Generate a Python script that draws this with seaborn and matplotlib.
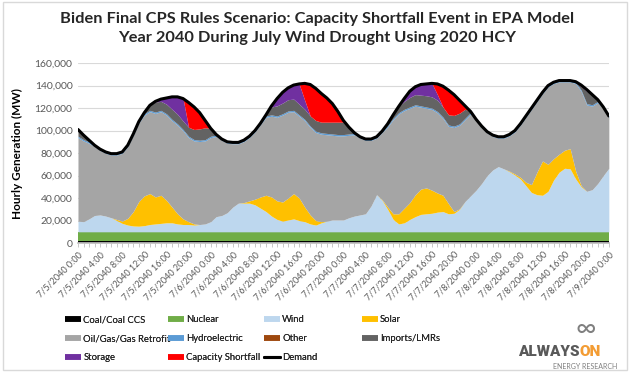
import numpy as np
import matplotlib.pyplot as plt
import seaborn as sns
from matplotlib.lines import Line2D
from matplotlib.patches import Rectangle
from matplotlib.ticker import FuncFormatter, MultipleLocator

# hourly values, thousand MW, 7/5/2040 0:00 .. 7/9/2040 0:00 (97 points)
hours = np.arange(97)

tick_labels = [
    "7/5/2040 0:00", "7/5/2040 4:00", "7/5/2040 8:00", "7/5/2040 12:00",
    "7/5/2040 16:00", "7/5/2040 20:00", "7/6/2040 0:00", "7/6/2040 4:00",
    "7/6/2040 8:00", "7/6/2040 12:00", "7/6/2040 16:00", "7/6/2040 20:00",
    "7/7/2040 0:00", "7/7/2040 4:00", "7/7/2040 8:00", "7/7/2040 12:00",
    "7/7/2040 16:00", "7/7/2040 20:00", "7/8/2040 0:00", "7/8/2040 4:00",
    "7/8/2040 8:00", "7/8/2040 12:00", "7/8/2040 16:00", "7/8/2040 20:00",
    "7/9/2040 0:00",
]

coal = [2.0] * 97
nuclear = [8.0] * 97
hydro = [1.2] * 97

wind = [9.5, 9, 11.5, 14.5, 15, 14, 12.5, 10, 7.5, 6, 5.2, 5, 5.5, 6.5, 7, 7.5,
        8, 8, 7, 6.5, 6.5, 6, 6.5, 7, 9, 13.5, 14.5, 17, 22, 25.5, 25.5, 25.5,
        24, 21, 18, 14, 11, 9.5, 10.5, 11.5, 10, 9, 7, 6, 8, 9.5, 10.5, 10.5,
        10.5, 12.5, 14, 15, 16, 23, 33, 28, 20, 11, 7, 8, 11, 13.5, 15.5, 16,
        16.5, 17.5, 18, 16, 16.5, 20, 27, 32, 37, 43, 50, 55, 58, 56, 53.5, 50.5,
        47, 41, 35, 33, 32.5, 36, 46, 53, 56.5, 56, 47, 40, 36, 37.5, 43, 50, 56.5]

solar = [0, 0, 0, 0, 0, 0, 0, 1, 2, 6, 12.8, 22, 26.5, 27.5, 24, 25,
         20, 14, 9, 5, 2.5, 1, 0, 0, 0, 0, 0, 0, 0, 0, 0.5, 2,
         5, 10, 14.5, 17, 16.5, 17, 19.5, 22.5, 20, 13, 8, 4, 1, 0, 0, 0,
         0, 0, 0, 0, 0, 0, 0, 0.5, 2, 5, 9, 13, 15, 19.5, 22.5, 23,
         20.5, 17, 14.5, 9, 1.5, 0.5, 0, 0, 0, 0, 0, 0, 0, 0, 0.5, 1,
         1.5, 3, 7, 20, 30.5, 24, 19, 16, 16, 18, 7, 1, 0, 0, 0, 0, 0]

gas = [74.3, 71.8, 67.3, 61.3, 57.3, 55.8, 55.8, 57.3, 60.3, 63.8, 67.8, 69.8,
       71.8, 72.8, 74.3, 74.3, 75.8, 76.8, 78.8, 78.3, 74.8, 73.8, 73.8, 73.8,
       74.8, 71.3, 66.8, 61.8, 56.3, 52.8, 54.3, 56.3, 59.8, 64.3, 69.3, 71.8,
       74.3, 77.3, 76.3, 72.8, 72.8, 76.8, 77.8, 78.3, 77.8, 76.8, 75.3, 74.8,
       74.8, 73.3, 72.3, 68.3, 65.3, 58.3, 50.3, 59.8, 71.3, 83.8, 88.8, 86.8,
       83.8, 78.8, 72.8, 70.8, 71.8, 71.3, 68.3, 68.8, 74.8, 74.3, 72.8, 72.8,
       61.8, 49.8, 37.8, 29.8, 25.3, 27.3, 31.3, 37.3, 46.3, 57.8, 66.8, 62.8,
       59.8, 68.8, 66.8, 64.3, 60.8, 59.3, 77.8, 83.8, 76.8, 74.3, 71.8, 59.8, 45.3]

other = [0] * 77 + [1.5] + [0] * 19

imports = [6, 4, 1.5, 0, 0, 0, 0, 0, 0, 0, 0, 0, 1, 4.5, 9, 8,
           8.5, 9, 8.5, 7.5, 8, 9, 10, 10.5, 7, 0.5, 0, 0, 0, 0, 0, 0,
           0, 0, 1, 7, 9, 9.5, 10, 10, 9.5, 9, 9, 9.5, 9.5, 10, 10.5, 11,
           11, 6, 0.5, 0, 0, 0, 0, 0, 1.5, 3, 5.5, 7, 8.5, 9, 9.5, 10,
           10, 10, 9, 9, 9.5, 9.5, 8, 1, 0, 0, 0, 0, 0, 0, 0, 0,
           0, 0, 0, 0, 0, 0, 0, 0, 0, 0, 0.5, 3, 11, 8.5, 1.5, 0, 0]

storage = [0, 0, 0, 0, 0, 0, 0, 0, 0, 0, 0, 0, 0, 0, 0.5, 2,
           5.5, 11, 15.5, 20, 0, 0, 0, 0, 0, 0, 0, 0, 0, 0, 0, 0,
           0, 0, 0, 1, 6.5, 9.5, 10.5, 12.5, 18, 8, 0, 0, 0, 0, 0, 0,
           0, 0, 0, 0, 0, 0, 0, 0, 0, 0, 0, 2.5, 5.5, 7, 9.5, 10.5,
           12, 5, 0, 0, 0, 0, 0, 0, 0, 0, 0, 0, 0, 0, 0, 0,
           0, 0, 0, 0, 0, 0, 0, 0, 0, 0, 0, 1.5, 1.5, 0.5, 0, 0, 0]

shortfall = [0, 0, 0, 0, 0, 0, 0, 0, 0, 0, 0, 0, 0, 0, 0, 0,
             0, 0, 0, 0, 22, 20, 14.5, 6.5, 0, 0, 0, 0, 0, 0, 0, 0,
             0, 0, 0, 0, 0, 0, 0, 0, 0, 15, 28, 28.5, 25.5, 21.5, 16.5, 9.5,
             1.5, 0, 0, 0, 0, 0, 0, 0, 0, 0, 0, 0, 0, 0, 0, 0,
             0, 9.5, 18.5, 22, 18.5, 11.5, 3, 0, 0, 0, 0, 0, 0, 0, 0, 0,
             0, 0, 0, 0, 0, 0, 0, 0, 0, 0, 0, 0, 0, 0, 0, 0, 0]

demand = [101, 96, 91.5, 87, 83.5, 81, 79.5, 79.5, 81, 87, 97, 108, 116, 122.5,
          126, 128, 129, 130, 130, 128.5, 125, 121, 116, 109, 102, 96.5, 92.5, 90,
          89.5, 89.5, 91.5, 95, 100, 106.5, 114, 122, 128.5, 134, 138, 140.5, 141.5,
          142, 141, 137.5, 133, 129, 124, 117, 109, 103, 98, 94.5, 92.5, 92.5, 94.5,
          99.5, 106, 114, 121.5, 128.5, 135, 139, 141, 141.5, 142, 141.5, 139.5, 136,
          132, 127, 122, 117, 110, 104, 99, 96, 94.5, 94.5, 96.5, 100, 106, 113, 120,
          127, 134, 140, 143, 144.5, 144.5, 144.5, 143.5, 140.5, 136.5, 132, 127.5,
          121, 113]

series_names = ["Coal/Coal CCS", "Nuclear", "Wind", "Solar", "Oil/Gas/Gas Retrofit",
                "Hydroelectric", "Other", "Imports/LMRs", "Storage", "Capacity Shortfall"]
series_colors = ["#000000", "#70AD47", "#BDD7EE", "#FFC000", "#A5A5A5",
                 "#5B9BD5", "#9E480E", "#636363", "#7030A0", "#FF0000"]

sns.set_theme(style="white")
plt.rcParams["font.family"] = ["Lato", "DejaVu Sans"]

fig = plt.figure(figsize=(6.35, 3.78), dpi=100)
ax = fig.add_axes([0.1228, 0.357, 0.836, 0.476])

layers = [np.array(s) * 1000 for s in
          (coal, nuclear, wind, solar, gas, hydro, other, imports, storage, shortfall)]
ax.stackplot(hours, *layers, colors=series_colors, linewidth=0, zorder=2)
sns.lineplot(x=hours, y=np.array(demand) * 1000, color="black", linewidth=2.2,
             ax=ax, zorder=3)

ax.set_xlim(0, 96)
ax.set_ylim(0, 160000)
ax.yaxis.set_major_locator(MultipleLocator(20000))
ax.yaxis.set_major_formatter(FuncFormatter(lambda v, p: f"{int(v):,}"))
ax.grid(axis="y", color="#D9D9D9", linewidth=0.8, zorder=0)
ax.set_axisbelow(True)

ax.set_xticks(hours[::4])
ax.set_xticklabels(tick_labels, rotation=45, ha="right", va="top",
                   rotation_mode="anchor", fontsize=6.5, color="#595959")
ax.set_xticks(hours, minor=True)
ax.tick_params(axis="x", which="both", direction="out", length=3, width=0.6,
               color="#BFBFBF", bottom=True, pad=2)
ax.tick_params(axis="y", labelsize=7.5, labelcolor="#595959", length=0, pad=4)
for side in ["top", "right", "left"]:
    ax.spines[side].set_visible(False)
ax.spines["bottom"].set_color("#BFBFBF")

ax.set_ylabel("Hourly Generation (MW)", fontsize=8.5, fontweight="bold",
              color="#000000", labelpad=8)

fig.text(0.5, 0.925, "Biden Final CPS Rules Scenario: Capacity Shortfall Event in EPA Model\n"
         "Year 2040 During July Wind Drought Using 2020 HCY",
         ha="center", va="center", fontsize=11.8, fontweight="bold", linespacing=1.45)

# legend laid out in four equal columns like the original
handles = [Line2D([], [], color=c, linewidth=4, solid_capstyle="butt")
           for c in series_colors]
handles.append(Line2D([], [], color="black", linewidth=2.2))
names = series_names + ["Demand"]
columns = [[0, 4, 8], [1, 5, 9], [2, 6, 10], [3, 7]]
col_x = [0.103, 0.265, 0.416, 0.570]
for cx, idx in zip(col_x, columns):
    leg = fig.legend([handles[i] for i in idx], [names[i] for i in idx],
                     loc="upper left", bbox_to_anchor=(cx, 0.166), frameon=False,
                     fontsize=6.8, handlelength=1.7, handletextpad=0.2,
                     labelspacing=1.05, borderaxespad=0, borderpad=0)
    fig.add_artist(leg)

# logo
fig.text(0.922, 0.13, "\u221e", ha="center", va="center", fontsize=20, color="#7F7F7F")
fig.text(0.912, 0.068, "ALWAYS", ha="right", va="center", fontsize=11,
         fontweight="black", color="#595959", family=["Roboto", "DejaVu Sans"])
fig.text(0.912, 0.068, "ON", ha="left", va="center", fontsize=11,
         fontweight="black", color="#F39C34", family=["Roboto", "DejaVu Sans"])
fig.text(0.922, 0.03, "ENERGY RESEARCH", ha="center", va="center", fontsize=5,
         color="#7F7F7F")

fig.add_artist(Rectangle((0.005, 0.02), 0.982, 0.975, transform=fig.transFigure,
                         fill=False, edgecolor="#D9D9D9", linewidth=1))

fig.savefig("out.png", dpi=100)
